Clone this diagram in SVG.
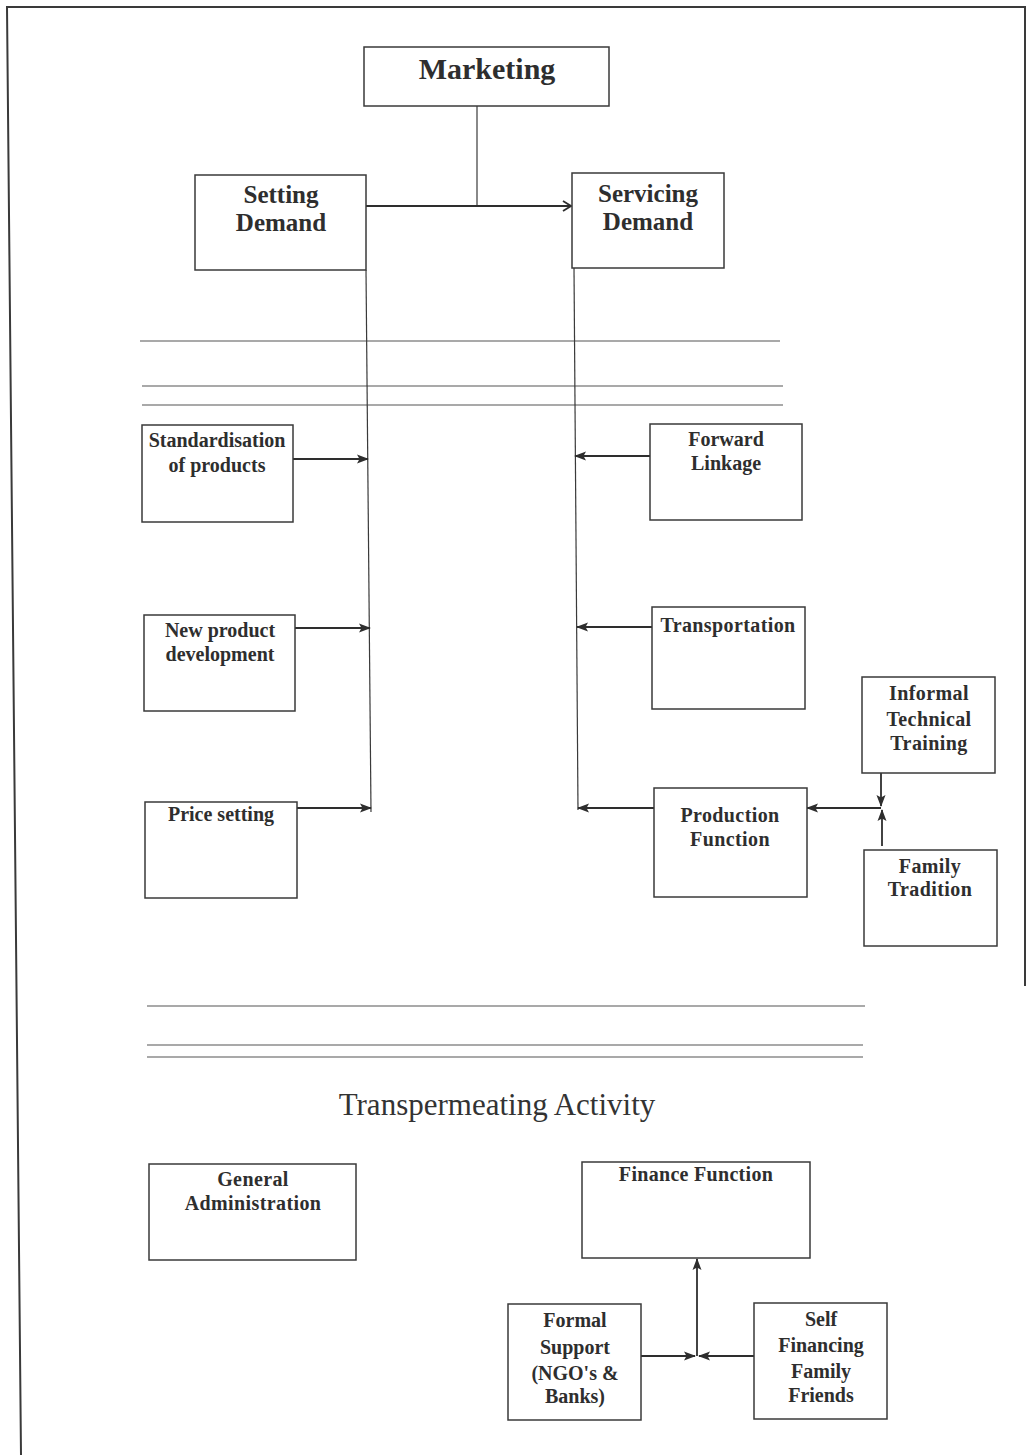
<svg xmlns="http://www.w3.org/2000/svg" width="1034" height="1455" viewBox="0 0 1034 1455">
  <style>
    .box { fill: #ffffff; stroke: #3a3a3a; stroke-width: 1.5; }
    .lbl { font-family: "Liberation Serif", "Times New Roman", serif; font-weight: bold; fill: #2e2e2e; text-anchor: middle; }
    .conn { fill: none; stroke: #2e2e2e; stroke-width: 1.8; }
    .thin { fill: none; stroke: #3a3a3a; stroke-width: 1.2; }
    .rule { fill: none; stroke: #555555; stroke-width: 1.2; }
    .frame { fill: none; stroke: #3a3a3a; stroke-width: 2; }
  </style>
  <defs>
    <marker id="solid" markerWidth="12" markerHeight="10" refX="11" refY="5" orient="auto" markerUnits="userSpaceOnUse">
      <path d="M0,0.5 L12,5 L0,9.5 L2.5,5 Z" fill="#2e2e2e"/>
    </marker>
    <marker id="open" markerWidth="10" markerHeight="12" refX="9" refY="6" orient="auto" markerUnits="userSpaceOnUse">
      <path d="M1,1 L9,6 L1,11" fill="none" stroke="#2e2e2e" stroke-width="1.8"/>
    </marker>
  </defs>

  <rect width="1034" height="1455" fill="#ffffff"/>

  <!-- page frame -->
  <path class="frame" d="M21,1455 L7,7 L1025,7 L1025,986"/>

  <!-- section rules -->
  <g id="rules">
    <line class="rule" x1="140" y1="341" x2="780" y2="341"/>
    <line class="rule" x1="142" y1="386" x2="783" y2="386"/>
    <line class="rule" x1="142" y1="405" x2="783" y2="405"/>
    <line class="rule" x1="147" y1="1006" x2="865" y2="1006"/>
    <line class="rule" x1="147" y1="1045" x2="863" y2="1045"/>
    <line class="rule" x1="147" y1="1057" x2="863" y2="1057"/>
  </g>

  <!-- connectors -->
  <g id="connectors">
    <line class="thin" x1="477" y1="106" x2="477" y2="206"/>
    <line class="conn" x1="366" y1="206" x2="571" y2="206" marker-end="url(#open)"/>
    <line class="thin" x1="366" y1="270" x2="371" y2="812"/>
    <line class="thin" x1="574" y1="268" x2="578" y2="810"/>
    <line class="conn" x1="293" y1="459" x2="368" y2="459" marker-end="url(#solid)"/>
    <line class="conn" x1="295" y1="628" x2="370" y2="628" marker-end="url(#solid)"/>
    <line class="conn" x1="297" y1="808" x2="371" y2="808" marker-end="url(#solid)"/>
    <line class="conn" x1="650" y1="456" x2="575" y2="456" marker-end="url(#solid)"/>
    <line class="conn" x1="652" y1="627" x2="577" y2="627" marker-end="url(#solid)"/>
    <line class="conn" x1="654" y1="808" x2="578" y2="808" marker-end="url(#solid)"/>
    <line class="conn" x1="881" y1="808" x2="807" y2="808" marker-end="url(#solid)"/>
    <line class="conn" x1="881" y1="773" x2="881" y2="806" marker-end="url(#solid)"/>
    <line class="conn" x1="882" y1="846" x2="882" y2="810" marker-end="url(#solid)"/>
    <line class="conn" x1="641" y1="1356" x2="695" y2="1356" marker-end="url(#solid)"/>
    <line class="conn" x1="754" y1="1356" x2="699" y2="1356" marker-end="url(#solid)"/>
    <line class="conn" x1="697" y1="1356" x2="697" y2="1259" marker-end="url(#solid)"/>
  </g>

  <g id="marketing">
    <rect class="box" x="364" y="47" width="245" height="59"/>
    <text class="lbl" x="487" y="79" font-size="30">Marketing</text>
  </g>

  <g id="setting-demand">
    <rect class="box" x="195" y="175" width="171" height="95"/>
    <text class="lbl" x="281" y="203" font-size="25">Setting</text>
    <text class="lbl" x="281" y="231" font-size="25">Demand</text>
  </g>

  <g id="servicing-demand">
    <rect class="box" x="572" y="173" width="152" height="95"/>
    <text class="lbl" x="648" y="202" font-size="25">Servicing</text>
    <text class="lbl" x="648" y="230" font-size="25">Demand</text>
  </g>

  <g id="standardisation">
    <rect class="box" x="142" y="425" width="151" height="97"/>
    <text class="lbl" x="217" y="447" font-size="20">Standardisation</text>
    <text class="lbl" x="217" y="472" font-size="20">of products</text>
  </g>

  <g id="new-product">
    <rect class="box" x="144" y="615" width="151" height="96"/>
    <text class="lbl" x="220" y="637" font-size="20">New product</text>
    <text class="lbl" x="220" y="661" font-size="20">development</text>
  </g>

  <g id="price-setting">
    <rect class="box" x="145" y="802" width="152" height="96"/>
    <text class="lbl" x="221" y="821" font-size="20">Price setting</text>
  </g>

  <g id="forward-linkage">
    <rect class="box" x="650" y="424" width="152" height="96"/>
    <text class="lbl" x="726" y="446" font-size="20">Forward</text>
    <text class="lbl" x="726" y="470" font-size="20">Linkage</text>
  </g>

  <g id="transportation">
    <rect class="box" x="652" y="607" width="153" height="102"/>
    <text class="lbl" x="728" y="632" font-size="20" letter-spacing="0.4">Transportation</text>
  </g>

  <g id="production">
    <rect class="box" x="654" y="788" width="153" height="109"/>
    <text class="lbl" x="730" y="822" font-size="20" letter-spacing="0.4">Production</text>
    <text class="lbl" x="730" y="846" font-size="20" letter-spacing="0.4">Function</text>
  </g>

  <g id="informal-training">
    <rect class="box" x="862" y="677" width="133" height="96"/>
    <text class="lbl" x="929" y="700" font-size="20" letter-spacing="0.4">Informal</text>
    <text class="lbl" x="929" y="726" font-size="20" letter-spacing="0.4">Technical</text>
    <text class="lbl" x="929" y="750" font-size="20" letter-spacing="0.4">Training</text>
  </g>

  <g id="family-tradition">
    <rect class="box" x="864" y="850" width="133" height="96"/>
    <text class="lbl" x="930" y="873" font-size="20" letter-spacing="0.4">Family</text>
    <text class="lbl" x="930" y="896" font-size="20" letter-spacing="0.4">Tradition</text>
  </g>

  <text x="497" y="1115" font-family="'Liberation Serif', 'Times New Roman', serif" font-size="31" fill="#333333" text-anchor="middle">Transpermeating Activity</text>

  <g id="general-administration">
    <rect class="box" x="149" y="1164" width="207" height="96"/>
    <text class="lbl" x="253" y="1186" font-size="20" letter-spacing="0.4">General</text>
    <text class="lbl" x="253" y="1210" font-size="20" letter-spacing="0.4">Administration</text>
  </g>

  <g id="finance-function">
    <rect class="box" x="582" y="1162" width="228" height="96"/>
    <text class="lbl" x="696" y="1181" font-size="20" letter-spacing="0.3">Finance Function</text>
  </g>

  <g id="formal-support">
    <rect class="box" x="508" y="1304" width="133" height="116"/>
    <text class="lbl" x="575" y="1327" font-size="20">Formal</text>
    <text class="lbl" x="575" y="1354" font-size="20">Support</text>
    <text class="lbl" x="575" y="1380" font-size="20">(NGO's &amp;</text>
    <text class="lbl" x="575" y="1403" font-size="20">Banks)</text>
  </g>

  <g id="self-financing">
    <rect class="box" x="754" y="1303" width="133" height="116"/>
    <text class="lbl" x="821" y="1326" font-size="20">Self</text>
    <text class="lbl" x="821" y="1352" font-size="20">Financing</text>
    <text class="lbl" x="821" y="1378" font-size="20">Family</text>
    <text class="lbl" x="821" y="1402" font-size="20">Friends</text>
  </g>
</svg>
